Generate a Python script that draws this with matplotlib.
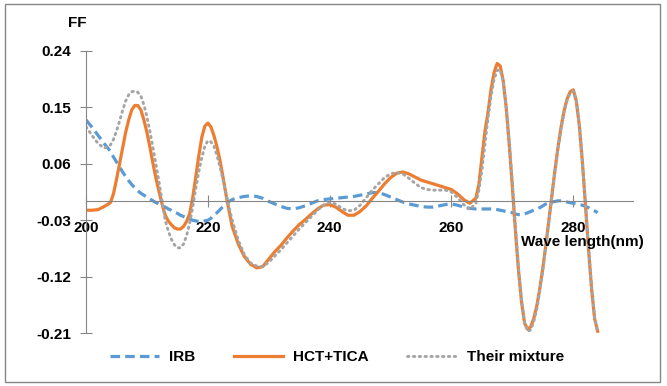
import numpy as np
import matplotlib.pyplot as plt
from matplotlib.patches import Rectangle

# finer steps where the curves turn sharply
wavelength = np.concatenate([np.arange(200, 204), np.arange(204, 224.5, 0.5),
                             np.arange(225, 264), np.arange(264, 284.5, 0.5)])

irb = [0.130, 0.118, 0.105, 0.092,
       0.080, 0.071, 0.063, 0.055, 0.047, 0.040, 0.033, 0.027, 0.022, 0.017,
       0.013, 0.010, 0.007, 0.004, 0.001, -0.002, -0.004, -0.007, -0.009, -0.012,
       -0.014, -0.017, -0.019, -0.022, -0.024, -0.026, -0.028, -0.030, -0.031, -0.032,
       -0.032, -0.031, -0.030, -0.027, -0.022, -0.018, -0.013, -0.008, -0.004, 0.000,
       0.003,
       0.006, 0.008, 0.009, 0.008, 0.005, 0.000, -0.004, -0.008, -0.011, -0.012,
       -0.010, -0.007, -0.003, 0.001, 0.003, 0.004, 0.005, 0.006, 0.007, 0.008,
       0.010, 0.012, 0.014, 0.014, 0.011, 0.007, 0.003, -0.001, -0.004, -0.006,
       -0.008, -0.009, -0.009, -0.007, -0.005, -0.004, -0.006, -0.009, -0.011,
       -0.012, -0.012, -0.012, -0.012, -0.012, -0.012, -0.012, -0.013, -0.014, -0.015,
       -0.016, -0.017, -0.018, -0.020, -0.021, -0.021, -0.020, -0.018, -0.016, -0.014,
       -0.012, -0.010, -0.007, -0.004, -0.002, -0.001, 0.000, 0.001, 0.001, 0.000,
       -0.001, -0.002, -0.003, -0.004, -0.005, -0.006, -0.008, -0.010, -0.013, -0.015,
       -0.018]

hct_tica = [-0.014, -0.014, -0.013, -0.008,
            -0.002, 0.012, 0.035, 0.060, 0.085, 0.110, 0.130, 0.146, 0.153, 0.153,
            0.146, 0.130, 0.110, 0.086, 0.060, 0.036, 0.015, -0.005, -0.022, -0.031,
            -0.037, -0.042, -0.044, -0.044, -0.040, -0.032, -0.020, 0.005, 0.038, 0.072,
            0.102, 0.120, 0.125, 0.119, 0.105, 0.087, 0.065, 0.038, 0.010, -0.016,
            -0.040,
            -0.068, -0.088, -0.100, -0.106, -0.104, -0.092, -0.080, -0.070, -0.058, -0.047,
            -0.037, -0.029, -0.020, -0.012, -0.006, -0.005, -0.009, -0.016, -0.022, -0.022,
            -0.016, -0.007, 0.005, 0.016, 0.028, 0.038, 0.045, 0.047, 0.044, 0.039,
            0.034, 0.031, 0.028, 0.025, 0.022, 0.019, 0.012, 0.003, -0.003,
            0.005, 0.027, 0.070, 0.112, 0.142, 0.179, 0.206, 0.220, 0.216, 0.192,
            0.148, 0.089, 0.022, -0.047, -0.110, -0.160, -0.194, -0.204, -0.200, -0.187,
            -0.167, -0.139, -0.106, -0.069, -0.029, 0.011, 0.051, 0.087, 0.119, 0.145,
            0.164, 0.175, 0.178, 0.160, 0.120, 0.062, -0.006, -0.076, -0.139, -0.187,
            -0.207]

mixture = [0.119, 0.105, 0.092, 0.085,
           0.090, 0.099, 0.112, 0.128, 0.145, 0.160, 0.170, 0.175, 0.176, 0.174,
           0.168, 0.154, 0.135, 0.111, 0.085, 0.058, 0.030, 0.000, -0.030, -0.047,
           -0.060, -0.069, -0.074, -0.074, -0.068, -0.055, -0.035, -0.010, 0.020, 0.047,
           0.070, 0.088, 0.097, 0.095, 0.088, 0.073, 0.055, 0.034, 0.012, -0.010,
           -0.030,
           -0.062, -0.085, -0.098, -0.103, -0.104, -0.097, -0.087, -0.077, -0.066, -0.055,
           -0.044, -0.034, -0.024, -0.014, -0.006, -0.002, -0.004, -0.011, -0.015, -0.014,
           -0.006, 0.006, 0.018, 0.028, 0.038, 0.044, 0.046, 0.044, 0.037, 0.029,
           0.022, 0.019, 0.018, 0.018, 0.018, 0.015, 0.006, -0.005, -0.013,
           -0.003, 0.018, 0.050, 0.092, 0.133, 0.168, 0.195, 0.209, 0.210, 0.190,
           0.150, 0.094, 0.030, -0.040, -0.105, -0.158, -0.193, -0.207, -0.205, -0.192,
           -0.172, -0.143, -0.110, -0.072, -0.032, 0.008, 0.048, 0.085, 0.117, 0.143,
           0.162, 0.173, 0.176, 0.160, 0.122, 0.063, -0.004, -0.074, -0.136, -0.185,
           -0.210]

yticks = [-0.21, -0.12, -0.03, 0.06, 0.15, 0.24]
xticks = [200, 220, 240, 260, 280]

plt.rcParams['font.family'] = ['Liberation Sans', 'DejaVu Sans']
plt.rcParams['font.weight'] = 'bold'

fig = plt.figure(figsize=(6.67, 3.86), dpi=100)
ax = fig.add_axes([0.129, 0.137, 0.820, 0.731])

grey = '#868686'
ax.plot(wavelength, irb, color='#5B9BD5', lw=2.3, ls=(0, (3, 1.6)), label='IRB')
ax.plot(wavelength, hct_tica, color='#ED7D31', lw=2.3, solid_joinstyle='round',
        label='HCT+TICA')
ax.plot(wavelength, mixture, color='#A5A5A5', lw=2.1, ls=(0, (0.5, 1.5)),
        dash_capstyle='round', label='Their mixture')

ax.set_xlim(200, 289.8)
ax.set_ylim(-0.21, 0.24)
ax.set_yticks(yticks)
ax.set_yticklabels([f'{v:.2f}' for v in yticks])
ax.set_xticks(xticks)

for s in ['top', 'right']:
    ax.spines[s].set_visible(False)
ax.spines['bottom'].set_position(('data', 0))
ax.spines['bottom'].set_color(grey)
ax.spines['left'].set_color(grey)
ax.spines['left'].set_position(('data', 200))
ax.tick_params(axis='both', direction='inout', length=8, color=grey,
               labelsize=11)
ax.tick_params(axis='x', pad=10)
ax.tick_params(axis='y', pad=7)
for lbl in ax.get_xticklabels() + ax.get_yticklabels():
    lbl.set_fontweight('bold')

fig.text(77 / 667, 1 - 23 / 386, 'FF', ha='center', va='center',
         fontsize=11, fontweight='bold')
fig.text(582 / 667, 1 - 242 / 386, 'Wave length(nm)', ha='center', va='center',
         fontsize=11, fontweight='bold')

fig.legend(loc='center', bbox_to_anchor=(0.505, 0.075), ncol=3, frameon=False,
           fontsize=11, handlelength=3.2, handletextpad=0.7, columnspacing=2.5)

fig.patches.append(Rectangle((5 / 667, 4 / 386), 655 / 667, 378 / 386,
                             transform=fig.transFigure, fill=False,
                             edgecolor=grey, lw=1))

fig.savefig('out.png', dpi=100)
